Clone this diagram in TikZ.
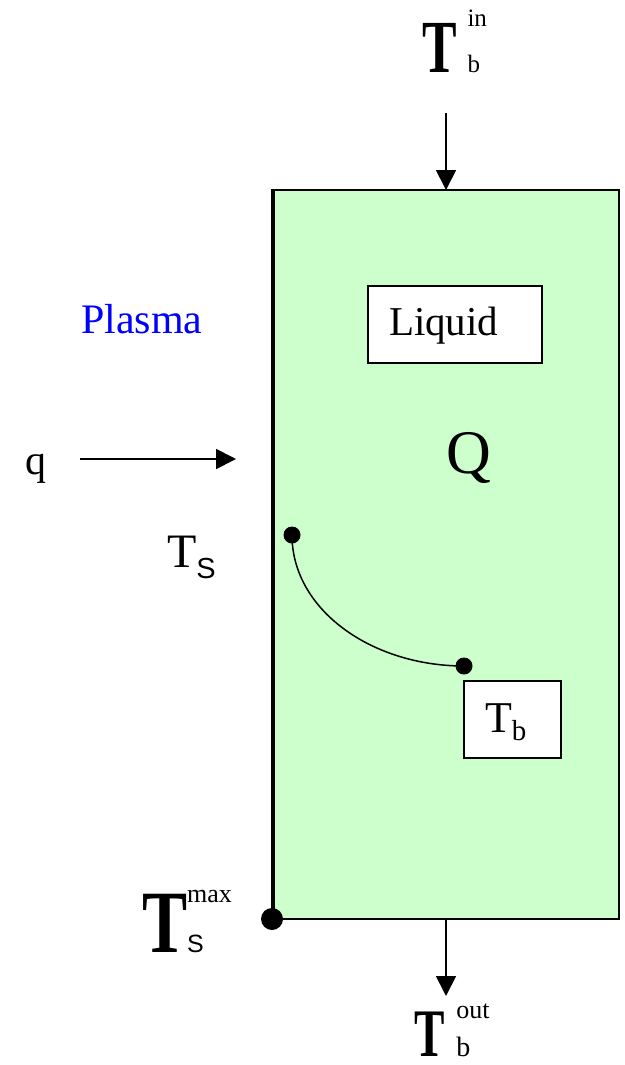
\documentclass[tikz,border=0pt]{standalone}
\usepackage{fontspec}
\setmainfont{Liberation Serif}
\newfontfamily\sansS{Liberation Sans}
\usetikzlibrary{arrows.meta}
\definecolor{liquidgreen}{HTML}{CCFFCC}
\definecolor{plasmablue}{HTML}{0000FF}
\newcommand{\fs}[1]{\fontsize{#1}{#1}\selectfont}
\tikzset{
  txt/.style={anchor=base west, inner sep=0pt, outer sep=0pt},
  box/.style={draw=black, line width=1.6pt, fill=white},
  flow/.style={line width=1.8pt, -{Triangle[length=20pt,width=20pt]}},
  dot/.style={circle, fill=black, inner sep=0pt, minimum size=#1},
}
\begin{document}
\begin{tikzpicture}[x=1pt,y=-1pt]
\useasboundingbox (0,0) rectangle (624,1065);
% vessel
\filldraw[fill=liquidgreen, draw=black, line width=2pt] (273,190) rectangle (619,919);
\draw[line width=3.5pt] (273,189) -- (273,920);
% labels
\node[txt] (Tin) at (422,72) {\scalebox{.69}[1]{\fs{75}\bfseries T}\hspace{11pt}\fs{25}\rlap{\raisebox{45pt}{in}}b};
\node[txt] (Tout) at (414,1056) {\scalebox{.67}[1]{\fs{68}\bfseries T}\hspace{12pt}\fs{26}\rlap{\raisebox{38pt}{out}}\fs{28}b};
\node[txt] (Tsmax) at (142,952) {\scalebox{.76}[1]{\fs{89}\bfseries T}\hspace{0pt}\fs{26}\rlap{\raisebox{50pt}{max}}{\sansS\fs{25}S}};
\node[txt] (Ts) at (167,567) {\fs{48}T{\sansS\fs{29}\raisebox{-11pt}{S}}};
\node[txt, text=plasmablue] (plasma) at (81,333) {\fs{42}Plasma};
\node[txt] (q) at (25,474) {\fs{42}q};
\node[txt] (Q) at (446,473) {\fs{62}Q};
% boxes
\node[box, minimum width=174pt, minimum height=77pt, inner sep=0pt] (liquid) at (455,324.5) {};
\node[txt] (liquidtxt) at (389,335) {\fs{41}Liquid};
\node[box, minimum width=97pt, minimum height=77pt, inner sep=0pt] (tbbox) at (512.5,719.5) {};
\node[txt] (tbtxt) at (485,732) {\fs{44}T\raisebox{-8pt}{\fs{29}b}};
% arrows
\coordinate (inStart) at (446,113);
\coordinate (inEnd) at (446,190);
\draw[flow] (inStart) -- (inEnd);
\coordinate (outStart) at (446,919);
\coordinate (outEnd) at (446,996);
\draw[flow] (outStart) -- (outEnd);
\coordinate (qStart) at (80,459);
\coordinate (qEnd) at (236,459);
\draw[flow] (qStart) -- (qEnd);
% temperature profile
\node[dot=17pt] (ts) at (292,535) {};
\node[dot=17pt] (tb) at (464,666) {};
\draw[line width=1.5pt] (ts.center) .. controls (292,610) and (372,666) .. (tb.center);
\node[dot=22pt] (tsmaxdot) at (272,919) {};
\end{tikzpicture}
\end{document}
